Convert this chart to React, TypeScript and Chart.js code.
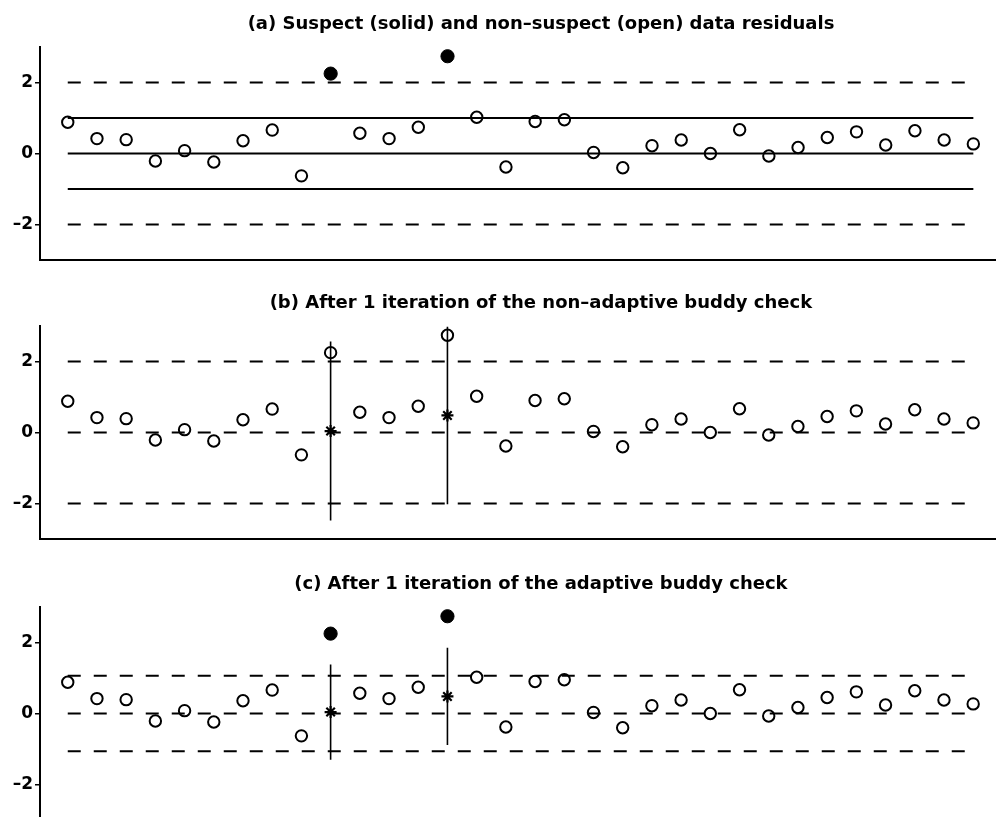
import { useEffect, useRef } from "react";
import { Chart, registerables } from "chart.js";

Chart.register(...registerables);

// ---- data ----
const stations = [1, 2, 3, 4, 5, 6, 7, 8, 9, 10, 11, 12, 13, 14, 15, 16, 17, 18, 19, 20, 21, 22, 23, 24, 25, 26, 27, 28, 29, 30, 31, 32];
const residuals = [0.88, 0.42, 0.39, -0.21, 0.08, -0.24, 0.36, 0.66, -0.63, 2.25, 0.57, 0.42, 0.74, 2.74, 1.02, -0.38, 0.9, 0.95, 0.03, -0.4, 0.22, 0.38, 0.0, 0.67, -0.07, 0.17, 0.45, 0.61, 0.24, 0.64, 0.38, 0.27];
const suspectStations = [10, 14];
const buddyMeans = [0.04, 0.48];
const nonAdaptiveHalfWidths = [2.52, 2.5];
const adaptiveHalfWidths = [1.34, 1.37];
const yTickValues = [-2, 0, 2];
const panelTitles = [
  "(a) Suspect (solid) and non\u2013suspect (open) data residuals",
  "(b) After 1 iteration of the non\u2013adaptive buddy check",
  "(c) After 1 iteration of the adaptive buddy check",
];
const panelASolidLines = [-1, 0, 1];
const panelADashedLines = [-2, 2];
const panelBSolidLines: number[] = [];
const panelBDashedLines = [-2, 0, 2];
const panelCSolidLines: number[] = [];
const panelCDashedLines = [-1.06, 0, 1.06];

// ---- layout ----
const CANVAS_W = 1050;
const CANVAS_H = 280;
const panelTops = [0, 279, 560];
const FONT = "'DejaVu Sans', Verdana, sans-serif";

type PanelSpec = {
  title: string;
  solid: number[];
  dashed: number[];
  suspectFilled: boolean;
  halfWidths: number[] | null;
};

const panels: PanelSpec[] = [
  { title: panelTitles[0], solid: panelASolidLines, dashed: panelADashedLines, suspectFilled: true, halfWidths: null },
  { title: panelTitles[1], solid: panelBSolidLines, dashed: panelBDashedLines, suspectFilled: false, halfWidths: nonAdaptiveHalfWidths },
  { title: panelTitles[2], solid: panelCSolidLines, dashed: panelCDashedLines, suspectFilled: true, halfWidths: adaptiveHalfWidths },
];

function buildConfig(p: PanelSpec): any {
  const xFirst = stations[0];
  const xLast = stations[stations.length - 1];
  const datasets: any[] = [];

  p.solid.forEach((v) => {
    datasets.push({
      type: "line",
      data: [{ x: xFirst, y: v }, { x: xLast, y: v }],
      borderColor: "#000",
      borderWidth: 1.8,
      pointRadius: 0,
      fill: false,
    });
  });
  p.dashed.forEach((v) => {
    datasets.push({
      type: "line",
      data: [{ x: xFirst, y: v }, { x: xLast, y: v }],
      borderColor: "#000",
      borderWidth: 2,
      borderDash: [13, 13],
      pointRadius: 0,
      fill: false,
    });
  });

  if (p.halfWidths) {
    suspectStations.forEach((s, i) => {
      const m = buddyMeans[i];
      const h = p.halfWidths![i];
      datasets.push({
        type: "line",
        data: [{ x: s, y: m - h }, { x: s, y: m + h }],
        borderColor: "#000",
        borderWidth: 1.6,
        pointRadius: 0,
        fill: false,
      });
    });
    datasets.push({
      type: "scatter",
      data: suspectStations.map((s, i) => ({ x: s, y: buddyMeans[i] })),
      pointStyle: "star",
      pointRadius: 6,
      borderColor: "#000",
      borderWidth: 2.2,
      backgroundColor: "#000",
    });
  }

  const openPts: any[] = [];
  const solidPts: any[] = [];
  stations.forEach((s, i) => {
    const pt = { x: s, y: residuals[i] };
    if (p.suspectFilled && suspectStations.includes(s)) solidPts.push(pt);
    else openPts.push(pt);
  });

  datasets.push({
    type: "scatter",
    data: openPts,
    pointStyle: "circle",
    pointRadius: 5.7,
    borderWidth: 2,
    borderColor: "#000",
    backgroundColor: "rgba(0,0,0,0)",
  });
  if (solidPts.length) {
    datasets.push({
      type: "scatter",
      data: solidPts,
      pointStyle: "circle",
      pointRadius: 6.6,
      borderWidth: 1,
      borderColor: "#000",
      backgroundColor: "#000",
    });
  }

  return {
    type: "scatter",
    data: { datasets },
    options: {
      animation: false,
      responsive: false,
      events: [],
      layout: { padding: { top: 0, left: 0, right: 8, bottom: 20 } },
      plugins: {
        legend: { display: false },
        tooltip: { enabled: false },
        title: {
          display: true,
          text: p.title,
          fullSize: false,
          color: "#000",
          font: { family: FONT, size: 18, weight: "bold", lineHeight: 1 },
          padding: { top: 15, bottom: 14 },
        },
      },
      scales: {
        x: {
          type: "linear",
          min: 0.05,
          max: 34.35,
          grid: { display: false, drawTicks: false },
          ticks: { display: false },
          border: { display: true, color: "#000", width: 2 },
        },
        y: {
          type: "linear",
          min: -3,
          max: 3,
          afterBuildTicks: (scale: any) => {
            scale.ticks = yTickValues.map((v) => ({ value: v }));
          },
          afterFit: (scale: any) => {
            scale.width = 40;
          },
          grid: {
            drawOnChartArea: false,
            drawTicks: true,
            tickLength: 5,
            color: "#000",
            lineWidth: 1.5,
          },
          border: { display: true, color: "#000", width: 2 },
          ticks: {
            color: "#000",
            padding: 2,
            font: { family: FONT, size: 17, weight: "bold" },
            callback: (v: number) => (v < 0 ? "\u2013" + Math.abs(v) : String(v)),
          },
        },
      },
    },
  };
}

function Panel({ spec, top }: { spec: PanelSpec; top: number }) {
  const ref = useRef<HTMLCanvasElement | null>(null);
  useEffect(() => {
    if (!ref.current) return;
    const chart = new Chart(ref.current, buildConfig(spec));
    return () => chart.destroy();
  }, [spec]);
  return (
    <div style={{ position: "absolute", left: 0, top, width: CANVAS_W, height: CANVAS_H }}>
      <canvas ref={ref} width={CANVAS_W} height={CANVAS_H} style={{ display: "block" }} />
    </div>
  );
}

export default function App() {
  return (
    <div
      style={{
        position: "fixed",
        left: 0,
        top: 0,
        width: 996,
        height: 817,
        overflow: "hidden",
        background: "#fff",
      }}
    >
      {panels.map((p, i) => (
        <Panel key={i} spec={p} top={panelTops[i]} />
      ))}
    </div>
  );
}
